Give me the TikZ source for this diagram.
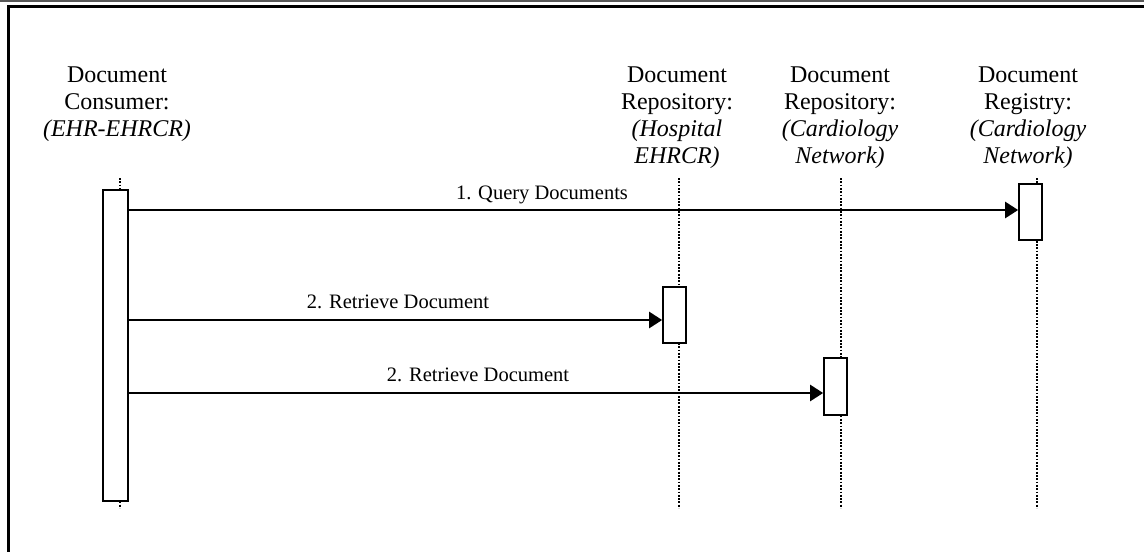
\documentclass[tikz,border=0pt]{standalone}
\usepackage{fontspec}
\setmainfont{Liberation Serif}
\usetikzlibrary{arrows.meta}
\begin{document}
\begin{tikzpicture}[x=1pt,y=-1pt,
  hdr/.style={align=center,font=\fontsize{24}{27}\selectfont,inner sep=0pt,anchor=north},
  lbl/.style={font=\fontsize{20.5}{24}\selectfont,inner sep=0pt},
  actbox/.style={draw,line width=1.7pt,fill=white,minimum width=23pt,inner sep=0pt},
  life/.style={line width=2.2pt,dash pattern=on 1.8pt off 1.5pt},
  msg/.style={line width=2.5pt,-{Triangle[length=13pt,width=16pt]}}]
\useasboundingbox (0,0) rectangle (1144,552);
% frame
\fill[black!65] (0,0) rectangle (1144,2);
\draw[line width=3pt] (7,6.5) -- (1144,6.5);
\draw[line width=3pt] (8.5,5) -- (8.5,552);
% headers
\node[hdr] (hc) at (117,67) {Document\\Consumer:\\\textit{(EHR-EHRCR)}};
\node[hdr] (hh) at (677,67) {Document\\Repository:\\\textit{(Hospital}\\\textit{EHRCR)}};
\node[hdr] (hk) at (840,67) {Document\\Repository:\\\textit{(Cardiology}\\\textit{Network)}};
\node[hdr] (hr) at (1028,67) {Document\\Registry:\\\textit{(Cardiology}\\\textit{Network)}};
% lifelines
\coordinate (lct) at (120,178); \coordinate (lcb) at (120,508);
\coordinate (lht) at (679,178); \coordinate (lhb) at (679,508);
\coordinate (lkt) at (841,178); \coordinate (lkb) at (841,508);
\coordinate (lrt) at (1037,178); \coordinate (lrb) at (1037,508);
\draw[life] (lct) -- (lcb);
\draw[life] (lht) -- (lhb);
\draw[life] (lkt) -- (lkb);
\draw[life] (lrt) -- (lrb);
% activation boxes
\node[actbox,minimum width=25pt,minimum height=311pt] (bc) at (115.5,345.5) {};
\node[actbox,minimum height=56pt] (br) at (1030.5,212) {};
\node[actbox,minimum height=56pt] (bh) at (674.5,315) {};
\node[actbox,minimum height=57pt] (bk) at (835.5,386.5) {};
% messages
\coordinate (m1) at (128,210);
\coordinate (m2) at (128,320);
\coordinate (m3) at (128,393);
\draw[msg] (m1) -- (br.west |- m1);
\draw[msg] (m2) -- (bh.west |- m2);
\draw[msg] (m3) -- (bk.west |- m3);
\node[lbl] (t1) at (542,195) {1. Query Documents};
\node[lbl] (t2) at (398,302) {2. Retrieve Document};
\node[lbl] (t3) at (478,375) {2. Retrieve Document};
\end{tikzpicture}
\end{document}
